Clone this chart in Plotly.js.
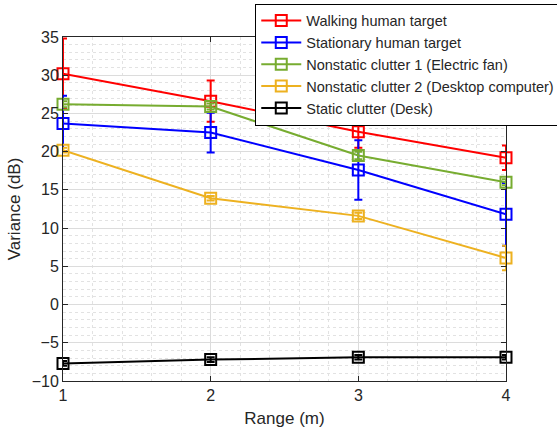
<!DOCTYPE html>
<html>
<head>
<meta charset="utf-8">
<script src="https://cdn.plot.ly/plotly-3.0.1.min.js"></script>
<style>html,body{margin:0;padding:0;background:#fff;}#chart{width:557px;height:439px;}</style>
</head>
<body>
<div id="chart"></div>
<script>
const ranges = [1, 2, 3, 4];
const seriesNames = ["Walking human target", "Stationary human target", "Nonstatic clutter 1 (Electric fan)", "Nonstatic clutter 2 (Desktop computer)", "Static clutter (Desk)"];
const walking = [30.2, 26.6, 22.6, 19.2];
const walkingErr = [4.6, 2.7, 2.1, 1.6];
const stationary = [23.7, 22.5, 17.6, 11.8];
const stationaryErr = [3.6, 2.6, 3.9, 4.1];
const fan = [26.2, 25.9, 19.5, 16.0];
const fanErr = [0.4, 0.4, 0.5, 0.4];
const desktop = [20.2, 13.9, 11.6, 6.1];
const desktopErr = [0.3, 0.3, 0.4, 1.6];
const desk = [-7.7, -7.2, -6.9, -6.9];
const deskErr = [0.3, 0.3, 0.3, 0.3];
const colors = ["#ff0000", "#0000ff", "#77ac30", "#edb120", "#000000"];
const yVals = [walking, stationary, fan, desktop, desk];
const yErrs = [walkingErr, stationaryErr, fanErr, desktopErr, deskErr];

const traces = yVals.map((ys, i) => ({
  x: ranges, y: ys, name: seriesNames[i], type: "scatter", mode: "lines+markers",
  cliponaxis: false,
  line: {color: colors[i], width: 2},
  marker: {symbol: "square-open", size: 11, color: colors[i], line: {width: 2}},
  error_y: {type: "data", array: yErrs[i], visible: true, color: colors[i], thickness: 2, width: 4}
}));

const gridMajor = "#dcdcdc";
const layout = {
  width: 557, height: 439,
  margin: {l: 63, r: 51, t: 37, b: 58, autoexpand: false},
  paper_bgcolor: "#fff", plot_bgcolor: "#fff",
  font: {family: "Liberation Sans, Arial, sans-serif", color: "#262626", size: 15},
  showlegend: true,
  legend: {x: 0.434, y: 1.097, xanchor: "left", yanchor: "top", bgcolor: "#fff",
    bordercolor: "#000", borderwidth: 1, font: {size: 14.5, color: "#262626"},
    itemwidth: 40, tracegroupgap: 0},
  xaxis: {
    range: [1, 4], tickvals: ranges, ticktext: ["1","2","3","4"],
    showgrid: true, gridcolor: gridMajor, gridwidth: 1,
    minor: {dtick: 0.2, showgrid: true, gridcolor: "#e2e2e2", griddash: "dot", gridwidth: 1},
    showline: true, linecolor: "#262626", linewidth: 1, mirror: "ticks",
    ticks: "inside", ticklen: 5, tickcolor: "#262626",
    zeroline: false, tickfont: {size: 16},
    title: {text: "Range (m)", font: {size: 17}, standoff: 8}
  },
  yaxis: {
    range: [-10, 35], dtick: 5, tick0: -10,
    showgrid: true, gridcolor: gridMajor, gridwidth: 1,
    minor: {dtick: 1, showgrid: true, gridcolor: "#e2e2e2", griddash: "dot", gridwidth: 1},
    showline: true, linecolor: "#262626", linewidth: 1, mirror: "ticks",
    ticks: "inside", ticklen: 5, tickcolor: "#262626",
    zeroline: false, tickfont: {size: 16},
    title: {text: "Variance (dB)", font: {size: 17}, standoff: 6}
  }
};
Plotly.newPlot("chart", traces, layout, {displayModeBar: false, staticPlot: true});
</script>
</body>
</html>
